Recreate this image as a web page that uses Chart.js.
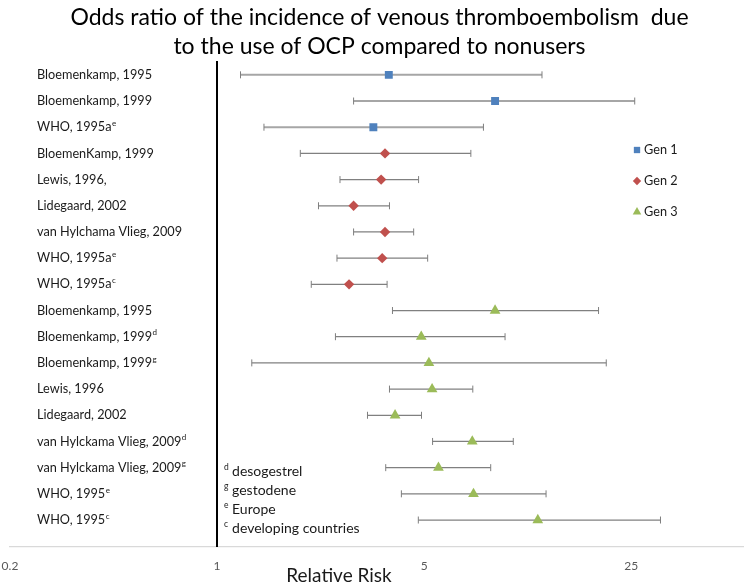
<!DOCTYPE html>
<html>
<head>
<meta charset="utf-8">
<script src="https://cdn.jsdelivr.net/npm/chart.js@4/dist/chart.umd.min.js"></script>
<style>
  html, body { margin: 0; padding: 0; background: #fff; }
  #wrap { width: 750px; height: 584px; }
</style>
</head>
<body>
<div id="wrap"><canvas id="vte"></canvas></div>
<script>
// Study rows, top to bottom
const studies = [
    'Bloemenkamp, 1995', 'Bloemenkamp, 1999', 'WHO, 1995a', 'BloemenKamp, 1999',
    'Lewis, 1996,', 'Lidegaard, 2002', 'van Hylchama Vlieg, 2009', 'WHO, 1995a',
    'WHO, 1995a', 'Bloemenkamp, 1995', 'Bloemenkamp, 1999', 'Bloemenkamp, 1999',
    'Lewis, 1996', 'Lidegaard, 2002', 'van Hylckama Vlieg, 2009', 'van Hylckama Vlieg, 2009',
    'WHO, 1995', 'WHO, 1995'
];
const studySups = ['', '', 'e', '', '', '', '', 'e', 'c', '', 'd', 'g', '', '', 'd', 'g', 'e', 'c'];
const generation = [1, 1, 1, 2, 2, 2, 2, 2, 2, 3, 3, 3, 3, 3, 3, 3, 3, 3];
const oddsRatio = [3.80, 8.68, 3.37, 3.69, 3.58, 2.89, 3.69, 3.61, 2.79, 8.68, 4.89, 5.19, 5.32, 3.99, 7.27, 5.59, 7.34, 12.1];
const ciLow     = [1.20, 2.89, 1.44, 1.91, 2.60, 2.20, 2.89, 2.54, 2.08, 3.91, 2.51, 1.31, 3.82, 3.22, 5.34, 3.71, 4.19, 4.78];
const ciHigh    = [12.5, 25.7, 7.93, 7.19, 4.79, 3.82, 4.61, 5.14, 3.75, 19.4, 9.38, 20.6, 7.30, 4.90, 10.0, 8.39, 12.9, 31.4];
const xTicks = [0.2, 1, 5, 25];
const genNames = ['Gen 1', 'Gen 2', 'Gen 3'];
const footnotes = [['d', 'desogestrel'], ['g', 'gestodene'], ['e', 'Europe'], ['c', 'developing countries']];

const FONT = 'Lato, "Open Sans", sans-serif';
const genColors = ['#4F81BD', '#C0504D', '#9BBB59'];
const genStyles = [
    { pointStyle: 'rect', radius: 5.6 },
    { pointStyle: 'rectRot', radius: 5.2 },
    { pointStyle: 'triangle', radius: 6.2 }
];
const whisker = [
    { color: '#A6A6A6', width: 2 },
    { color: '#808080', width: 1.3 },
    { color: '#808080', width: 1.3 }
];

const datasets = genNames.map((name, g) => ({
    label: name,
    data: oddsRatio.map((v, i) => ({ x: v, y: i + 1, gen: generation[i] })).filter(p => p.gen === g + 1),
    backgroundColor: genColors[g],
    borderWidth: 0,
    pointStyle: genStyles[g].pointStyle,
    pointRadius: genStyles[g].radius,
    pointHoverRadius: genStyles[g].radius
}));

function drawSup(ctx, base, sup, x, y, size, supSize) {
    ctx.font = `${size}px ${FONT}`;
    ctx.fillText(base, x, y);
    if (!sup) return;
    const w = ctx.measureText(base).width;
    ctx.font = `${supSize}px ${FONT}`;
    ctx.fillText(sup, x + w + 0.5, y - size * 0.3);
}

// Axis line at RR = 1 and the confidence intervals, drawn under the markers
const errorBars = {
    id: 'errorBars',
    beforeDatasetsDraw(chart) {
        const { ctx, chartArea, scales: { x, y } } = chart;
        ctx.save();
        const one = Math.round(x.getPixelForValue(1));
        ctx.strokeStyle = '#000';
        ctx.lineWidth = 2;
        ctx.beginPath();
        ctx.moveTo(one, chartArea.top); ctx.lineTo(one, chartArea.bottom);
        ctx.stroke();

        ciLow.forEach((lo, i) => {
            const st = whisker[generation[i] - 1];
            const py = y.getPixelForValue(i + 1);
            const x1 = x.getPixelForValue(lo);
            const x2 = x.getPixelForValue(ciHigh[i]);
            ctx.strokeStyle = st.color;
            ctx.lineWidth = st.width;
            ctx.beginPath();
            ctx.moveTo(x1, py); ctx.lineTo(x2, py);
            ctx.stroke();
            ctx.strokeStyle = '#7F7F7F';
            ctx.lineWidth = 1;
            ctx.beginPath();
            ctx.moveTo(x1, py - 3.5); ctx.lineTo(x1, py + 3.5);
            ctx.moveTo(x2, py - 3.5); ctx.lineTo(x2, py + 3.5);
            ctx.stroke();
        });
        ctx.restore();
    }
};

// Row labels, legend, footnotes, axis title
const annotations = {
    id: 'annotations',
    afterDraw(chart) {
        const { ctx, scales: { x, y } } = chart;
        ctx.save();
        ctx.textBaseline = 'middle';
        ctx.textAlign = 'left';
        ctx.fillStyle = '#1a1a1a';
        studies.forEach((s, i) => {
            drawSup(ctx, s, studySups[i], 37, y.getPixelForValue(i + 1), 12.7, 8);
        });

        genNames.forEach((name, g) => {
            const ly = 150 + g * 31;
            ctx.fillStyle = genColors[g];
            Chart.helpers.drawPoint(ctx, { pointStyle: genStyles[g].pointStyle, radius: genStyles[g].radius * 0.8, rotation: 0, borderWidth: 0 }, 637, ly);
            ctx.fillStyle = '#1a1a1a';
            ctx.font = `12.7px ${FONT}`;
            ctx.fillText(name, 644, ly);
        });

        const fx = x.getPixelForValue(1) + 7;
        footnotes.forEach(([sup, text], k) => {
            const fy = 471 + k * 19;
            ctx.font = `8.5px ${FONT}`;
            ctx.fillText(sup, fx, fy - 4);
            ctx.font = `14px ${FONT}`;
            ctx.fillText(text, fx + 8, fy);
        });

        ctx.textAlign = 'center';
        ctx.font = `19px ${FONT}`;
        ctx.fillText('Relative Risk', 339, 576);
        ctx.restore();
    }
};

new Chart(document.getElementById('vte'), {
    type: 'scatter',
    data: { datasets },
    options: {
        responsive: true,
        maintainAspectRatio: false,
        animation: false,
        layout: { padding: { left: 10, right: 1, top: 0, bottom: 0 } },
        scales: {
            x: {
                type: 'logarithmic',
                min: 0.2,
                max: 60,
                grid: { display: false, drawTicks: false },
                border: { color: '#D9D9D9', width: 1.3 },
                afterBuildTicks: scale => { scale.ticks = xTicks.map(v => ({ value: v })); },
                afterFit: scale => {
                    scale.paddingLeft = 0;
                    scale.paddingRight = 0;
                    scale.height = 37;
                },
                ticks: {
                    color: '#595959',
                    font: { family: FONT, size: 12 },
                    padding: 12,
                    maxRotation: 0,
                    callback: v => String(v)
                }
            },
            y: {
                type: 'linear',
                display: false,
                reverse: true,
                min: 0.47,
                max: 19.03
            }
        },
        plugins: {
            legend: { display: false },
            tooltip: { enabled: false },
            title: {
                display: true,
                text: ['Odds ratio of the incidence of venous thromboembolism  due', 'to the use of OCP compared to nonusers'],
                color: '#000',
                font: { family: FONT, size: 23, weight: 'normal', lineHeight: 1.26 },
                padding: { top: 3, bottom: 0 }
            }
        }
    },
    plugins: [errorBars, annotations]
});
</script>
</body>
</html>
